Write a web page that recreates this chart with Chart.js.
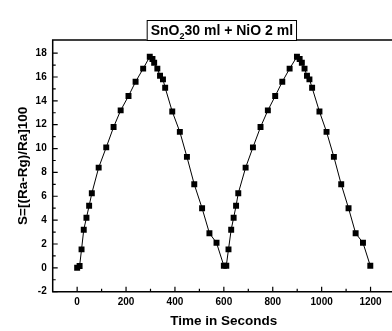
<!DOCTYPE html>
<html>
<head>
<meta charset="utf-8">
<script src="https://cdn.jsdelivr.net/npm/chart.js@4/dist/chart.umd.min.js"></script>
<style>
  html, body { margin: 0; padding: 0; background: #fff; overflow: hidden; }
  #wrap { width: 392px; height: 331px; overflow: hidden; position: relative; }
  canvas { display: block; }
</style>
</head>
<body>
<div id="wrap"><canvas id="c" width="400" height="331"></canvas></div>
<script>
// ---- data ----
const timeSeconds = [0, 10, 18, 27, 38, 49, 60, 88, 119, 149, 178, 210, 239, 270, 297, 308, 315, 328, 339, 351, 360, 389, 420, 449, 479, 511, 541, 570, 600, 610,
  619, 630, 640, 650, 659, 689, 719, 750, 780, 810, 839, 869, 899, 910, 919, 930, 940, 950, 961, 991, 1020, 1050, 1080, 1110, 1139, 1169, 1199];
const responseS = [0, 0.15, 1.55, 3.2, 4.2, 5.2, 6.25, 8.4, 10.1, 11.8, 13.2, 14.4, 15.6, 16.7, 17.7, 17.5, 17.2, 16.7, 16.1, 15.8, 15.1, 13.1, 11.4, 9.3, 7.0, 5.0, 2.9, 2.1, 0.17, 0.17,
  1.55, 3.2, 4.2, 5.2, 6.25, 8.4, 10.1, 11.8, 13.2, 14.4, 15.6, 16.7, 17.7, 17.5, 17.2, 16.7, 16.1, 15.8, 15.1, 13.1, 11.4, 9.3, 7.0, 5.0, 2.9, 2.1, 0.17];
const xLabelTicks = [0, 200, 400, 600, 800, 1000, 1200];
const xMinorTicks = [100, 300, 500, 700, 900, 1100];
const yLabelTicks = [-2, 0, 2, 4, 6, 8, 10, 12, 14, 16, 18];
const yMinorTicks = [-1, 1, 3, 5, 7, 9, 11, 13, 15, 17];
const titleMain = ["SnO", "2", "30 ml + NiO 2 ml"];
const xTitle = "Time in Seconds";
const yTitle = "S=[(Ra-Rg)/Ra]100";

const FONT = "'Liberation Sans', Arial, sans-serif";

const points = timeSeconds.map((t, i) => ({ x: t, y: responseS[i] }));

const framePlugin = {
  id: 'frame',
  afterDraw(chart) {
    const { ctx, chartArea: a, scales: { x, y } } = chart;
    ctx.save();
    ctx.strokeStyle = '#000';
    ctx.lineWidth = 1.5;
    ctx.beginPath();
    ctx.rect(a.left, a.top, a.right - a.left, a.bottom - a.top);
    ctx.stroke();
    ctx.lineWidth = 1.2;
    ctx.beginPath();
    xLabelTicks.forEach(v => { const p = x.getPixelForValue(v); ctx.moveTo(p, a.bottom); ctx.lineTo(p, a.bottom - 5); });
    xMinorTicks.forEach(v => { const p = x.getPixelForValue(v); ctx.moveTo(p, a.bottom); ctx.lineTo(p, a.bottom - 3); });
    yLabelTicks.forEach(v => { const p = y.getPixelForValue(v); ctx.moveTo(a.left, p); ctx.lineTo(a.left + 5, p); });
    yMinorTicks.forEach(v => { const p = y.getPixelForValue(v); ctx.moveTo(a.left, p); ctx.lineTo(a.left + 3, p); });
    ctx.stroke();

    // title box
    const big = 'bold 14px ' + FONT, small = 'bold 9px ' + FONT;
    ctx.font = big; const w1 = ctx.measureText(titleMain[0]).width;
    ctx.font = small; const w2 = ctx.measureText(titleMain[1]).width;
    ctx.font = big; const w3 = ctx.measureText(titleMain[2]).width;
    const tw = w1 + w2 + w3;
    const cx = (a.left + a.right) / 2 - 2;
    const bw = tw + 8, bh = 20;
    const bx = cx - bw / 2, by = a.top - bh;
    ctx.fillStyle = '#fff';
    ctx.fillRect(bx, by, bw, bh);
    ctx.lineWidth = 1;
    ctx.strokeStyle = '#000';
    ctx.strokeRect(bx + 0.5, by + 0.5, bw - 1, bh);
    ctx.fillStyle = '#000';
    ctx.textBaseline = 'alphabetic';
    ctx.textAlign = 'left';
    let tx = bx + 4; const base = by + 15;
    ctx.font = big; ctx.fillText(titleMain[0], tx, base); tx += w1;
    ctx.font = small; ctx.fillText(titleMain[1], tx, base + 4); tx += w2;
    ctx.font = big; ctx.fillText(titleMain[2], tx, base);
    ctx.restore();
  }
};

new Chart(document.getElementById('c'), {
  type: 'line',
  data: {
    datasets: [{
      data: points,
      borderColor: '#000',
      borderWidth: 1,
      backgroundColor: '#000',
      pointStyle: 'rect',
      pointRadius: 4.2,
      pointBorderWidth: 0,
      pointBackgroundColor: '#000',
      tension: 0,
      fill: false
    }]
  },
  options: {
    responsive: false,
    animation: false,
    devicePixelRatio: 1,
    layout: { padding: { top: 40, left: 0, right: 2, bottom: 0 } },
    plugins: { legend: { display: false }, tooltip: { enabled: false }, title: { display: false } },
    scales: {
      x: {
        type: 'linear',
        min: -100, max: 1300,
        grid: { display: false, drawTicks: false },
        border: { display: false },
        afterFit(s) { s.height = 39.3; },
        ticks: {
          stepSize: 100,
          autoSkip: false,
          maxRotation: 0,
          padding: 5,
          color: '#000',
          font: { family: FONT, size: 10, weight: 'bold' },
          callback: v => xLabelTicks.includes(v) ? String(v) : ''
        },
        title: { display: true, text: xTitle, color: '#000', padding: { top: 0, bottom: 2 },
          font: { family: FONT, size: 13.5, weight: 'bold' } }
      },
      y: {
        type: 'linear',
        min: -2, max: 19.1,
        grid: { display: false, drawTicks: false },
        border: { display: false },
        afterFit(s) { s.width = 52.7; },
        ticks: {
          stepSize: 2,
          includeBounds: false,
          padding: 6,
          color: '#000',
          font: { family: FONT, size: 10, weight: 'bold' },
          callback: v => yLabelTicks.includes(v) ? String(v) : ''
        },
        title: { display: true, text: yTitle, color: '#000', padding: { top: 15, bottom: 0 },
          font: { family: FONT, size: 13.5, weight: 'bold' } }
      }
    }
  },
  plugins: [framePlugin]
});
</script>
</body>
</html>
